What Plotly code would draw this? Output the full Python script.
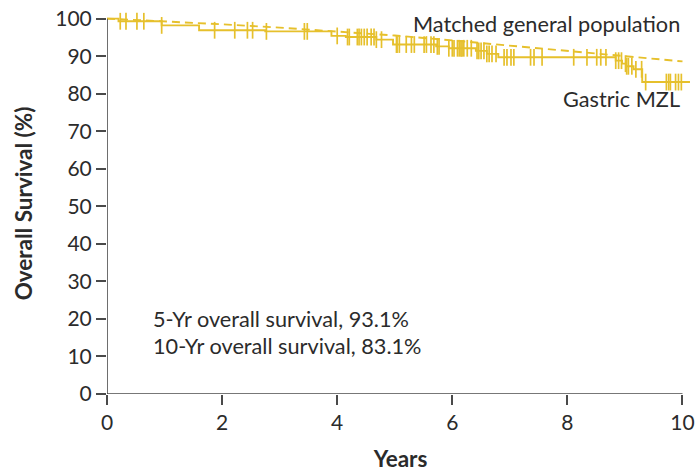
import numpy as np
import plotly.graph_objects as go

# Kaplan-Meier estimate for gastric MZL: event times (years) and survival (%) after each step
event_years = [0.2, 0.95, 1.6, 2.75, 3.9, 4.15, 4.68, 4.97, 5.72, 5.94, 6.41,
               6.6, 6.8, 8.84, 8.95, 9.02, 9.15, 9.3]
event_surv = [99.3, 98.2, 96.9, 96.6, 95.4, 95.1, 94.4, 93.1, 92.6, 92.1, 91.4,
              90.6, 89.7, 88.8, 88.0, 87.3, 86.5, 83.1]
follow_up_end = 10.13

# Censored observations (years)
censor_years = [0.23, 0.33, 0.52, 0.64, 0.95, 1.87, 2.22, 2.44, 2.53, 2.77, 3.43,
                3.48, 4.00, 4.18, 4.21, 4.35, 4.38, 4.42, 4.47, 4.52, 4.59, 4.64,
                4.68, 4.77, 5.03, 5.04, 5.08, 5.20, 5.29, 5.34, 5.51, 5.55, 5.63,
                5.68, 5.74, 5.77, 5.94, 6.00, 6.03, 6.09, 6.12, 6.15, 6.17, 6.20,
                6.26, 6.33, 6.43, 6.46, 6.50, 6.55, 6.60, 6.64, 6.69, 6.76, 6.90,
                6.95, 7.02, 7.07, 7.36, 7.42, 7.56, 8.11, 8.34, 8.51, 8.58, 8.67,
                8.84, 8.89, 8.94, 9.01, 9.03, 9.06, 9.12, 9.19, 9.29, 9.36, 9.72,
                9.76, 9.79, 9.88, 9.93, 9.98]

# Expected survival of the matched general population
pop_years = [0, 1, 2, 3, 4, 5, 6, 7, 8, 9, 10]
pop_surv = [100, 99.3, 98.5, 97.6, 96.6, 95.5, 94.2, 92.8, 91.4, 90.0, 88.6]

x_ticks = [0, 2, 4, 6, 8, 10]
y_ticks = [0, 10, 20, 30, 40, 50, 60, 70, 80, 90, 100]

GOLD = "#E6C02C"
INK = "#2b2b2b"
AXIS = "#4a4a4a"
FONT = "Lato"

# Step curve coordinates
km_x = [0] + event_years + [follow_up_end]
km_y = [100] + event_surv + [event_surv[-1]]

# Place each censor mark on the curve
ev = np.array(event_years)
sv = np.array([100] + event_surv)
censor_surv = sv[np.searchsorted(ev, np.array(censor_years), side="right")]

fig = go.Figure()
fig.add_trace(go.Scatter(
    x=pop_years, y=pop_surv, mode="lines",
    line=dict(color=GOLD, width=1.9, dash="8px,5px"),
    hoverinfo="skip", showlegend=False,
))
fig.add_trace(go.Scatter(
    x=km_x, y=km_y, mode="lines", line_shape="hv",
    line=dict(color=GOLD, width=1.9), showlegend=False,
))
fig.add_trace(go.Scatter(
    x=censor_years, y=censor_surv, mode="markers",
    marker=dict(symbol="line-ns", size=12, line=dict(color=GOLD, width=1.7)),
    showlegend=False, cliponaxis=False,
))

# Axis lines spanning exactly 0-10 years and 0-100%
fig.add_shape(type="line", x0=0, x1=10, y0=0, y1=0, xref="x", yref="y",
              line=dict(color=AXIS, width=1.6), layer="above")
fig.add_shape(type="line", x0=0, x1=0, y0=0, y1=100, xref="x", yref="y",
              line=dict(color=AXIS, width=1.6), layer="above")

fig.add_annotation(x=10, y=100, xref="x", yref="y", text="Matched general population",
                   showarrow=False, xanchor="right", yanchor="middle", yshift=-5,
                   font=dict(family=FONT, size=21.7, color=INK))
fig.add_annotation(x=10, y=78.5, xref="x", yref="y", text="Gastric MZL",
                   showarrow=False, xanchor="right", yanchor="middle",
                   font=dict(family=FONT, size=21.7, color=INK))
fig.add_annotation(x=0.77, y=20, xref="x", yref="y", text="5-Yr overall survival, 93.1%",
                   showarrow=False, xanchor="left", yanchor="middle",
                   font=dict(family=FONT, size=21.7, color=INK))
fig.add_annotation(x=0.77, y=12.8, xref="x", yref="y", text="10-Yr overall survival, 83.1%",
                   showarrow=False, xanchor="left", yanchor="middle",
                   font=dict(family=FONT, size=21.7, color=INK))

fig.update_xaxes(
    range=[0, 10.2], tickvals=x_ticks, ticktext=[str(v) for v in x_ticks],
    ticks="outside", ticklen=10, tickwidth=1.6, tickcolor=AXIS,
    showline=False, showgrid=False, zeroline=False,
    tickfont=dict(family=FONT, size=21, color=INK),
    title=dict(text="<b>Years</b>", font=dict(family=FONT, size=22.5, color=INK), standoff=18),
)
fig.update_yaxes(
    range=[0, 101.5], tickvals=y_ticks, ticktext=[str(v) for v in y_ticks],
    ticks="outside", ticklen=10, tickwidth=1.6, tickcolor=AXIS,
    showline=False, showgrid=False, zeroline=False,
    tickfont=dict(family=FONT, size=21, color=INK),
    title=dict(text="<b>Overall Survival (%)</b>", font=dict(family=FONT, size=22.5, color=INK),
               standoff=16),
)

fig.update_layout(
    width=700, height=473,
    margin=dict(l=107, r=5, t=11, b=78),
    plot_bgcolor="white", paper_bgcolor="white",
)

fig.write_html("out.html")
